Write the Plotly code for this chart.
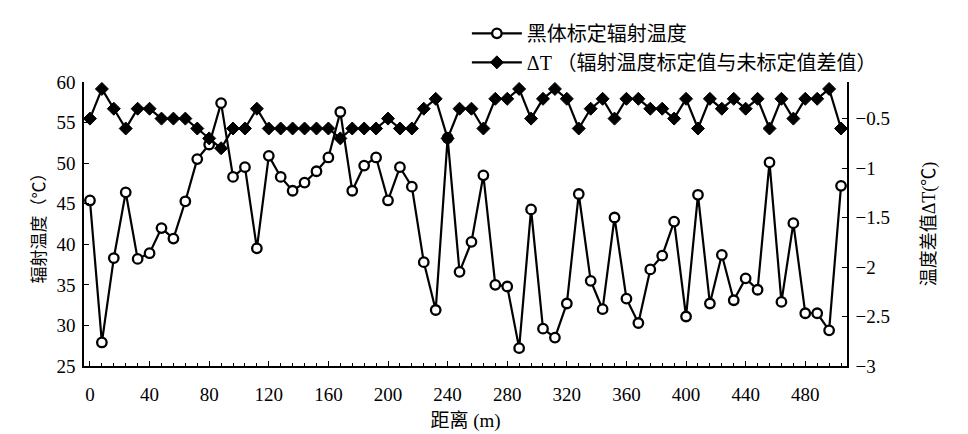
import plotly.graph_objects as go

distance = [i * 8 for i in range(64)]

temp_calibrated = [
    45.4, 27.9, 38.3, 46.4, 38.2, 38.9, 42.0, 40.7, 45.3, 50.5,
    52.3, 57.4, 48.3, 49.5, 39.5, 50.9, 48.3, 46.6, 47.6, 49.0,
    50.7, 56.3, 46.6, 49.7, 50.7, 45.4, 49.5, 47.1, 37.8, 31.9,
    53.1, 36.6, 40.3, 48.5, 35.0, 34.8, 27.2, 44.3, 29.6, 28.5,
    32.7, 46.2, 35.5, 32.0, 43.3, 33.3, 30.3, 36.9, 38.6, 42.8,
    31.1, 46.1, 32.7, 38.7, 33.1, 35.8, 34.4, 50.1, 32.9, 42.6,
    31.5, 31.5, 29.4, 47.2,
]

delta_t = [
    -0.5, -0.2, -0.4, -0.6, -0.4, -0.4, -0.5, -0.5, -0.5, -0.6,
    -0.7, -0.8, -0.6, -0.6, -0.4, -0.6, -0.6, -0.6, -0.6, -0.6,
    -0.6, -0.7, -0.6, -0.6, -0.6, -0.5, -0.6, -0.6, -0.4, -0.3,
    -0.7, -0.4, -0.4, -0.6, -0.3, -0.3, -0.2, -0.5, -0.3, -0.2,
    -0.3, -0.6, -0.4, -0.3, -0.5, -0.3, -0.3, -0.4, -0.4, -0.5,
    -0.3, -0.6, -0.3, -0.4, -0.3, -0.4, -0.3, -0.6, -0.3, -0.5,
    -0.3, -0.3, -0.2, -0.6,
]

name_temp = "黑体标定辐射温度"
name_delta = "ΔT （辐射温度标定值与未标定值差值）"

FONT = "Liberation Serif, Noto Sans CJK SC, serif"

fig = go.Figure()
fig.add_trace(go.Scatter(
    x=distance, y=temp_calibrated, name=name_temp, mode="lines+markers",
    line=dict(color="black", width=2.2),
    marker=dict(symbol="circle", size=9.5, color="white",
                line=dict(color="black", width=2.3)),
    yaxis="y",
))
fig.add_trace(go.Scatter(
    x=distance, y=delta_t, name=name_delta, mode="lines+markers",
    line=dict(color="black", width=2.2),
    marker=dict(symbol="diamond", size=10, color="black",
                line=dict(color="black", width=1)),
    yaxis="y2",
))

fig.update_layout(
    template="none",
    width=960, height=426,
    margin=dict(l=76, r=121, t=74, b=68, autoexpand=False),
    paper_bgcolor="white", plot_bgcolor="white",
    font=dict(family=FONT, size=19, color="black"),
    showlegend=True,
    legend=dict(
        x=0.5018, y=1.24, xanchor="left", yanchor="top",
        font=dict(family=FONT, size=20, color="black"),
        bgcolor="rgba(0,0,0,0)", tracegroupgap=0, itemwidth=50,
        borderwidth=0,
    ),
    xaxis=dict(
        range=[-4, 508], tickmode="linear", tick0=0, dtick=40,
        ticks="inside", ticklen=5, tickwidth=1.2, tickcolor="black",
        minor=dict(dtick=8, tick0=0, ticks="inside", ticklen=3, tickcolor="black"),
        showline=True, linecolor="black", linewidth=1.5,
        showgrid=False, zeroline=False, automargin=False,
        ticklabelstandoff=10,
        title=dict(text="距离 (m)", font=dict(size=19), standoff=10),
        tickfont=dict(size=19),
    ),
    yaxis=dict(
        range=[25, 60], tickmode="linear", tick0=25, dtick=5,
        ticks="inside", ticklen=5, tickcolor="black",
        showline=True, linecolor="black", linewidth=1.5,
        showgrid=False, zeroline=False, automargin=False,
        ticklabelstandoff=3,
        title=dict(text="辐射温度（℃）", font=dict(size=17), standoff=7),
        tickfont=dict(size=19),
    ),
    yaxis2=dict(
        range=[-3, -0.13], overlaying="y", side="right",
        tickmode="linear", tick0=-3, dtick=0.5,
        ticks="inside", ticklen=5, tickcolor="black",
        showline=True, linecolor="black", linewidth=1.5,
        showgrid=False, zeroline=False, automargin=False,
        ticklabelstandoff=3,
        title=dict(text="温度差值ΔT(℃)", font=dict(size=18), standoff=33),
        tickfont=dict(size=19),
    ),
)

fig.write_html("out.html")
